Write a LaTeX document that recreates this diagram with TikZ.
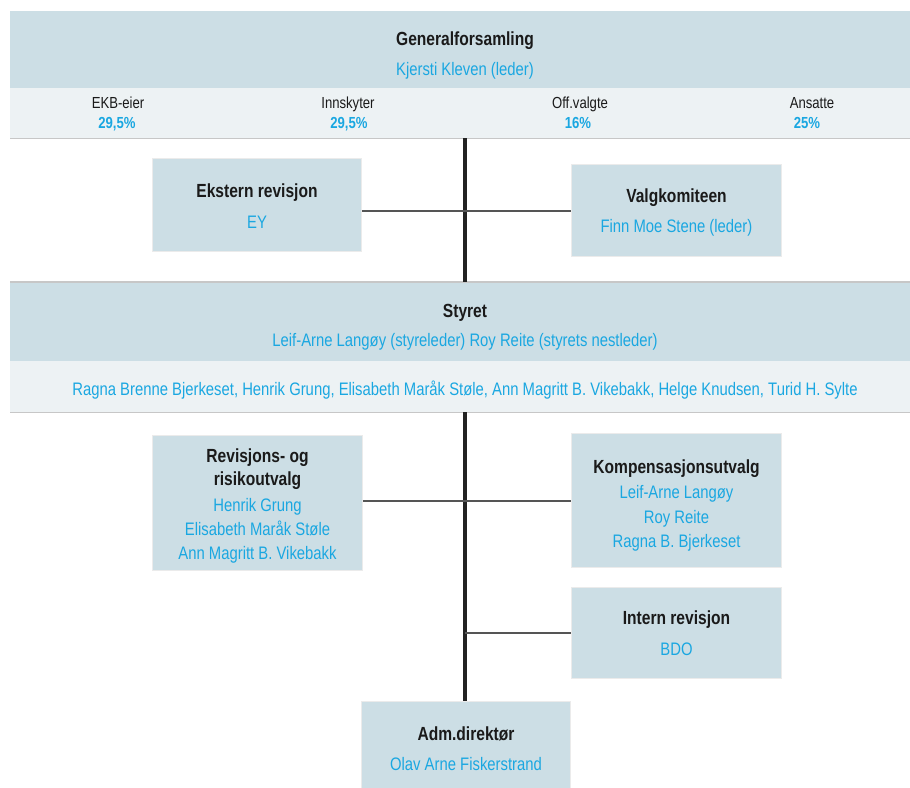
\documentclass[tikz,border=0pt]{standalone}
\usepackage{fontspec}
\setmainfont[FakeStretch=0.82]{Liberation Sans}
\definecolor{boxbg}{HTML}{CCDEE5}
\definecolor{lightbg}{HTML}{EDF2F4}
\definecolor{nameblue}{HTML}{1AA7E1}
\definecolor{spinecol}{HTML}{222222}
\definecolor{branchcol}{HTML}{555555}
\definecolor{titlecol}{HTML}{1A1A1A}
\tikzset{
  band/.style={fill=boxbg, draw=none, inner sep=0, minimum width=900pt, anchor=north west},
  subband/.style={fill=lightbg, draw=none, inner sep=0, minimum width=900pt, anchor=north west},
  bandline/.style={draw=black!22, line width=1.2pt},
  orgbox/.style={fill=boxbg, draw=black!8, line width=1pt, inner sep=0, anchor=north west},
  spineline/.style={draw=spinecol, line width=4pt},
  branchline/.style={draw=branchcol, line width=2pt},
  ttl/.style={font=\fontsize{19}{22}\selectfont\bfseries, text=titlecol, inner sep=0, anchor=base},
  nm/.style={font=\fontsize{18.1}{20}\selectfont, text=nameblue, inner sep=0, anchor=base},
  share/.style={font=\fontsize{16}{19}\selectfont, text=titlecol, inner sep=0, anchor=base},
  pct/.style={font=\fontsize{16}{19}\selectfont\bfseries, text=nameblue, inner sep=0, anchor=base},
}
\begin{document}
\begin{tikzpicture}[x=1pt,y=-1pt]
\useasboundingbox (0,0) rectangle (910,787);
\clip (0,0) rectangle (910,787);
% bands
\node[band, minimum height=77pt] (gf) at (10,11) {};
\node[subband, minimum height=50pt] (gfsub) at (10,88) {};
\draw[bandline] (gfsub.south west) -- (gfsub.south east);
\node[band, minimum height=79pt] (st) at (10,282) {};
\node[subband, minimum height=51pt] (stsub) at (10,361) {};
\draw[bandline] (st.north west) -- (st.north east);
\draw[bandline] (stsub.south west) -- (stsub.south east);
% boxes
\node[orgbox, minimum width=209pt, minimum height=93pt] (ekst) at (152,158) {};
\node[orgbox, minimum width=210pt, minimum height=92pt] (valg) at (571,164) {};
\node[orgbox, minimum width=210pt, minimum height=135pt] (rev) at (152,435) {};
\node[orgbox, minimum width=210pt, minimum height=134pt] (komp) at (571,433) {};
\node[orgbox, minimum width=210pt, minimum height=91pt] (intern) at (571,587) {};
\node[orgbox, minimum width=209pt, minimum height=92pt] (adm) at (361,701) {};
% connectors
\coordinate (sx) at (465,0);
\draw[spineline] (gfsub.south -| sx) -- (st.north -| sx);
\draw[spineline] (stsub.south -| sx) -- (adm.north -| sx);
\draw[branchline] (ekst.east |- valg.west) -- (valg.west);
\draw[branchline] (rev.east |- komp.west) -- (komp.west);
\draw[branchline] (sx |- intern.west) -- (intern.west);
% general assembly
\node[ttl] (gft) at (465,45) {Generalforsamling};
\node[nm] (gfn) at (465,75) {Kjersti Kleven (leder)};
\node[share] (s1) at (118,108) {EKB-eier};
\node[pct] (p1) at (117,128) {29,5\%};
\node[share] (s2) at (348,108) {Innskyter};
\node[pct] (p2) at (349,128) {29,5\%};
\node[share] (s3) at (580,108) {Off.valgte};
\node[pct] (p3) at (578,128) {16\%};
\node[share] (s4) at (812,108) {Ansatte};
\node[pct] (p4) at (807,128) {25\%};
% ekstern / valg
\node[ttl] (ekt) at (ekst.center |- 0,197) {Ekstern revisjon};
\node[nm] (ekn) at (ekst.center |- 0,228) {EY};
\node[ttl] (vat) at (valg.center |- 0,202) {Valgkomiteen};
\node[nm] (van) at (valg.center |- 0,232) {Finn Moe Stene (leder)};
% styret
\node[ttl] (stt) at (465,317) {Styret};
\node[nm] (stn) at (465,346) {Leif-Arne Langøy (styreleder) Roy Reite (styrets nestleder)};
\node[nm] (stm) at (465,395) {Ragna Brenne Bjerkeset, Henrik Grung, Elisabeth Maråk Støle, Ann Magritt B. Vikebakk, Helge Knudsen, Turid H. Sylte};
% revisjons
\node[ttl] (rvt1) at (rev.center |- 0,462) {Revisjons- og};
\node[ttl] (rvt2) at (rev.center |- 0,485) {risikoutvalg};
\node[nm] (rvn1) at (rev.center |- 0,511) {Henrik Grung};
\node[nm] (rvn2) at (rev.center |- 0,535) {Elisabeth Maråk Støle};
\node[nm] (rvn3) at (rev.center |- 0,559) {Ann Magritt B. Vikebakk};
% kompensasjon
\node[ttl] (kpt) at (komp.center |- 0,473) {Kompensasjonsutvalg};
\node[nm] (kpn1) at (komp.center |- 0,498) {Leif-Arne Langøy};
\node[nm] (kpn2) at (komp.center |- 0,523) {Roy Reite};
\node[nm] (kpn3) at (komp.center |- 0,547) {Ragna B. Bjerkeset};
% intern
\node[ttl] (int) at (intern.center |- 0,624) {Intern revisjon};
\node[nm] (inn) at (intern.center |- 0,655) {BDO};
% adm
\node[ttl] (adt) at (adm.center |- 0,740) {Adm.direktør};
\node[nm] (adn) at (adm.center |- 0,770) {Olav Arne Fiskerstrand};
\end{tikzpicture}
\end{document}
